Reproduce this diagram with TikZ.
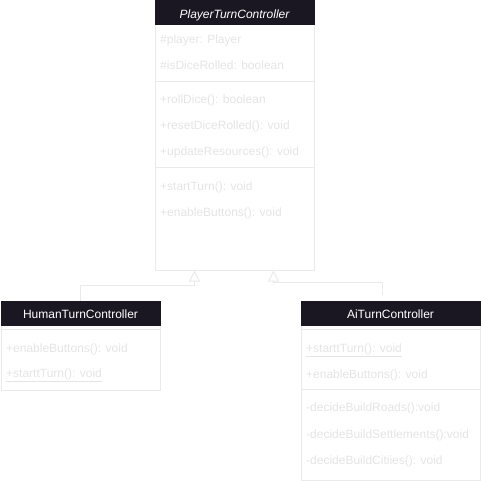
\documentclass[tikz,border=0pt]{standalone}
\usepackage{fontspec}
\setmainfont{Liberation Sans}
\usetikzlibrary{arrows.meta,calc}
\definecolor{hdr}{HTML}{1B1722}
\definecolor{txtc}{HTML}{E4E4E4}
\definecolor{linec}{HTML}{EAEAEA}
\begin{document}
\begin{tikzpicture}[x=1pt,y=-1pt,
  box/.style={draw=linec, line width=1pt, rectangle, inner sep=0pt},
  mem/.style={anchor=base west, inner sep=0pt, text=txtc, font=\fontsize{12pt}{14pt}\selectfont},
  ttl/.style={anchor=base, inner sep=0pt, text=white, font=\fontsize{12pt}{14pt}\selectfont},
  sep/.style={draw=linec, line width=1pt},
  hdrfill/.style={fill=hdr},
  inh/.style={draw=linec, line width=1pt, -{Triangle[open, length=11pt, width=11pt]}}]
\useasboundingbox (0,0) rectangle (481,481);
% boxes
\node[box, minimum width=159pt, minimum height=269pt] (ptc) at (234.5,135.5) {};
\node[box, minimum width=159pt, minimum height=89pt] (hum) at (80.5,345.5) {};
\node[box, minimum width=179pt, minimum height=179pt] (ai) at (390.5,390.5) {};
% headers
\fill[hdrfill] (ptc.north west) rectangle ($(ptc.north east)+(0,25)$);
\fill[hdrfill] (hum.north west) rectangle ($(hum.north east)+(0,25)$);
\fill[hdrfill] (ai.north west) rectangle ($(ai.north east)+(0,25)$);
% separators
\draw[sep] ($(ptc.north west)+(0,81)$) -- ($(ptc.north east)+(0,81)$);
\draw[sep] ($(ptc.north west)+(0,167)$) -- ($(ptc.north east)+(0,167)$);
\draw[sep] ($(hum.north west)+(0,29)$) -- ($(hum.north east)+(0,29)$);
\draw[sep] ($(ai.north west)+(0,29)$) -- ($(ai.north east)+(0,29)$);
\draw[sep] ($(ai.north west)+(0,89)$) -- ($(ai.north east)+(0,89)$);
% titles
\node[ttl] (ptct) at (234.5,19) {\itshape PlayerTurnController};
\node[ttl] (humt) at (80.5,318.5) {HumanTurnController};
\node[ttl] (ait) at (390.5,318.5) {AiTurnController};
% members
\node[mem] (p1) at (160,44) {\#player: Player};
\node[mem] (p2) at (160,70) {\#isDiceRolled: boolean};
\node[mem] (p3) at (160,104) {+rollDice(): boolean};
\node[mem] (p4) at (160,130) {+resetDiceRolled(): void};
\node[mem] (p5) at (160,156) {+updateResources(): void};
\node[mem] (p6) at (160,190) {+startTurn(): void};
\node[mem] (p7) at (160,216) {+enableButtons(): void};
\node[mem] (h1) at (6,352) {+enableButtons(): void};
\node[mem] (h2) at (6,377) {\underline{+starttTurn(): void}};
\node[mem] (a1) at (306,352) {\underline{+starttTurn(): void}};
\node[mem] (a2) at (306,378) {+enableButtons(): void};
\node[mem] (a3) at (306,411) {-decideBuildRoads():void};
\node[mem] (a4) at (306,438) {-decideBuildSettlements():void};
\node[mem] (a5) at (306,464) {-decideBuildCitiies(): void};
% inheritance connectors
\draw[inh] (hum.north) -- ++(0,-15) -| ($(ptc.south west)+(40,0)$);
\coordinate (aiend) at ($(ai.north)+(-8.5,-6)$);
\draw[inh] (aiend) |- ($(ptc.south west)+(119,12)$) -- ($(ptc.south west)+(119,0)$);
\end{tikzpicture}
\end{document}
